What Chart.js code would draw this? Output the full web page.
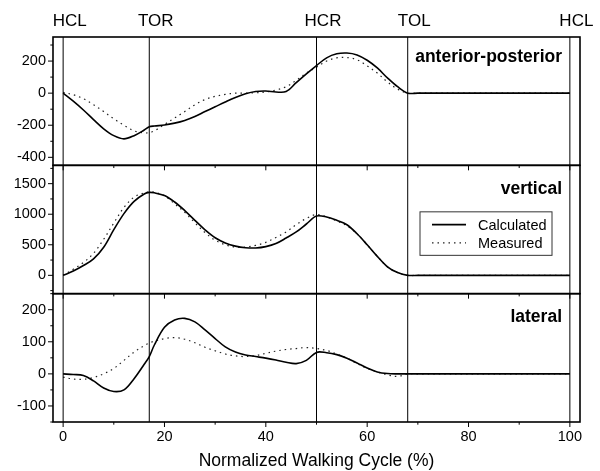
<!DOCTYPE html>
<html lang="en">
  <head>
    <meta charset="UTF-8" />
    <title>Ground reaction force over the walking cycle</title>
    <script src="https://cdn.jsdelivr.net/npm/chart.js@4/dist/chart.umd.min.js"></script>
    <style>
      html, body { margin: 0; padding: 0; background: #fff; }
      #wrap { width: 600px; height: 471px; }
    </style>
  </head>
  <body>
    <div id="wrap"><canvas id="gaitChart" width="600" height="471"></canvas></div>
    <script>
      const cycle = [0, 2, 4, 6, 8, 10, 12, 14, 16, 17, 18, 20, 22, 24, 26, 28, 30, 32, 34, 36, 38, 40, 42, 44, 46, 48, 50, 52, 54, 56, 58, 60, 62, 64, 66, 68, 70, 100];

      // anterior-posterior
      const apCalc = [0, -50, -105, -165, -222, -265, -285, -265, -230, -210, -205, -199, -187, -170, -146, -115, -85, -55, -27, -4, 10, 13, 7, 10, 65, 120, 172, 220, 245, 250, 238, 205, 157, 95, 40, 0, 0, 0];
      const apMeas = [5, -10, -35, -72, -115, -160, -200, -235, -248, -246, -235, -195, -155, -115, -72, -40, -20, -8, 0, 0, 2, 8, 20, 40, 80, 125, 162, 200, 220, 222, 208, 170, 125, 70, 25, 0, 0, 0];
      // vertical
      const vertCalc = [0, 70, 160, 270, 460, 747, 1010, 1210, 1330, 1357, 1350, 1305, 1200, 1060, 900, 745, 615, 530, 478, 452, 448, 470, 520, 610, 710, 840, 970, 955, 900, 828, 680, 500, 310, 140, 45, 0, 0, 0];
      const vertMeas = [0, 100, 210, 360, 590, 856, 1110, 1280, 1350, 1365, 1360, 1300, 1170, 1030, 860, 700, 575, 500, 462, 462, 490, 540, 620, 710, 830, 930, 995, 955, 890, 810, 680, 500, 310, 140, 45, 0, 0, 0];
      // lateral
      const latCalc = [0, -2, -5, -22, -44, -55, -50, -15, 30, 54, 90, 145, 168, 173, 162, 137, 110, 84, 68, 59, 54, 49, 43, 36, 32, 42, 67, 66, 60, 49, 34, 18, 6, 1, 0, 0, 0, 0];
      const latMeas = [-10, -16, -17, -11, 0, 17, 42, 68, 88, 96, 102, 110, 113, 108, 97, 83, 72, 62, 56, 54, 57, 64, 71, 76, 79, 82, 79, 73, 62, 49, 32, 17, 6, -3, -8, 0, 0, 0];

      const xTicks = [0, 20, 40, 60, 80, 100];
      const apTicks = [-400, -200, 0, 200];
      const vertTicks = [0, 500, 1000, 1500];
      const latTicks = [-100, 0, 100, 200];

      const eventX = [0, 17, 50, 68, 100];
      const eventLabels = ["HCL", "TOR", "HCR", "TOL", "HCL"];
      const panelNames = ["anterior-posterior", "vertical", "lateral"];
      const seriesNames = ["Calculated", "Measured"];

      const FONT = '"Liberation Sans", Arial, sans-serif';
      Chart.defaults.font.family = FONT;
      Chart.defaults.color = "#000";

      function pts(values) {
        return cycle.map(function (c, i) {
          return { x: c, y: values[i] };
        });
      }

      const solidStyle = { borderColor: "#000", borderWidth: 1.6, borderDash: [] };
      const dotStyle = { borderColor: "#222", borderWidth: 1.2, borderDash: [1.5, 4] };

      function series(label, values, axis, style) {
        return {
          label: label,
          data: pts(values),
          yAxisID: axis,
          borderColor: style.borderColor,
          borderWidth: style.borderWidth,
          borderDash: style.borderDash,
          pointRadius: 0,
          fill: false,
          tension: 0.35,
        };
      }

      function yScale(min, max, ticks, weight) {
        return {
          type: "linear",
          position: "left",
          stack: "panels",
          stackWeight: 1,
          weight: weight,
          min: min,
          max: max,
          grid: { display: false, drawTicks: false },
          border: { display: false },
          ticks: {
            padding: 7,
            font: { size: 14.5 },
            color: "#000",
            callback: function (v) { return String(v); },
          },
          afterBuildTicks: function (s) {
            s.ticks = ticks.map(function (v) { return { value: v }; });
          },
          afterFit: function (s) {
            s.width = 53;
          },
        };
      }

      // frames, tick marks, event lines, panel names, legend
      const panelPlugin = {
        id: "panelPlugin",
        afterDraw: function (chart) {
          const ctx = chart.ctx;
          const area = chart.chartArea;
          const x = chart.scales.x;
          const panels = [
            { s: chart.scales.yAP, ticks: apTicks, name: panelNames[0], base: 25 },
            { s: chart.scales.yVert, ticks: vertTicks, name: panelNames[1], base: 29 },
            { s: chart.scales.yLat, ticks: latTicks, name: panelNames[2], base: 28 },
          ];

          ctx.save();
          ctx.strokeStyle = "#000";

          // event lines
          ctx.lineWidth = 1;
          eventX.forEach(function (v) {
            const px = x.getPixelForValue(v);
            ctx.beginPath();
            ctx.moveTo(px, area.top);
            ctx.lineTo(px, area.bottom);
            ctx.stroke();
          });

          // event labels
          ctx.fillStyle = "#000";
          ctx.font = "17px " + FONT;
          ctx.textAlign = "center";
          ctx.textBaseline = "alphabetic";
          eventX.forEach(function (v, i) {
            ctx.fillText(eventLabels[i], x.getPixelForValue(v) + 6.5, area.top - 11.5);
          });

          panels.forEach(function (p) {
            const s = p.s;
            ctx.lineWidth = 1.6;
            ctx.strokeRect(area.left, s.top, area.right - area.left, s.bottom - s.top);

            // y tick marks, major + minor
            ctx.lineWidth = 1;
            const step = p.ticks[1] - p.ticks[0];
            let v = p.ticks[0];
            while (v - step / 2 >= s.min) v -= step / 2;
            for (; v <= s.max + 0.001; v += step / 2) {
              const major = Math.abs((v - p.ticks[0]) % step) < 0.001;
              const py = s.getPixelForValue(v);
              ctx.beginPath();
              ctx.moveTo(area.left, py);
              ctx.lineTo(area.left - (major ? 5 : 2.7), py);
              ctx.stroke();
            }

            // x tick marks at the bottom of each panel
            for (let t = 0; t <= 100; t += 10) {
              const major = t % 20 === 0;
              const px = x.getPixelForValue(t);
              ctx.beginPath();
              ctx.moveTo(px, s.bottom);
              ctx.lineTo(px, s.bottom + (major ? 5 : 2.7));
              ctx.stroke();
            }

            // panel name
            ctx.font = "bold 17.5px " + FONT;
            ctx.textAlign = "right";
            ctx.textBaseline = "alphabetic";
            ctx.fillText(p.name, area.right - 18, s.top + p.base);
          });

          // legend inside the vertical panel
          const vs = chart.scales.yVert;
          const box = { left: area.right - 160, top: vs.top + 46.5, w: 132, h: 43.5 };
          ctx.lineWidth = 1;
          ctx.strokeStyle = "#333";
          ctx.strokeRect(box.left, box.top, box.w, box.h);
          const rows = [
            { y: box.top + 12.8, style: solidStyle, text: seriesNames[0] },
            { y: box.top + 31, style: dotStyle, text: seriesNames[1] },
          ];
          ctx.font = "14.5px " + FONT;
          ctx.textAlign = "left";
          rows.forEach(function (r) {
            ctx.strokeStyle = r.style.borderColor;
            ctx.lineWidth = r.style.borderWidth;
            ctx.setLineDash(r.style.borderDash);
            ctx.beginPath();
            ctx.moveTo(box.left + 12, r.y);
            ctx.lineTo(box.left + 46, r.y);
            ctx.stroke();
            ctx.setLineDash([]);
            ctx.fillText(r.text, box.left + 58, r.y + 5.3);
          });

          ctx.restore();
        },
      };

      const ctx = document.querySelector("#gaitChart").getContext("2d");
      const gaitChart = new Chart(ctx, {
        type: "line",
        data: {
          datasets: [
            series(seriesNames[0], apCalc, "yAP", solidStyle),
            series(seriesNames[1], apMeas, "yAP", dotStyle),
            series(seriesNames[0], vertCalc, "yVert", solidStyle),
            series(seriesNames[1], vertMeas, "yVert", dotStyle),
            series(seriesNames[0], latCalc, "yLat", solidStyle),
            series(seriesNames[1], latMeas, "yLat", dotStyle),
          ],
        },
        options: {
          responsive: false,
          devicePixelRatio: 1,
          animation: false,
          layout: { padding: { top: 37, right: 20, left: 0, bottom: 0 } },
          plugins: { legend: { display: false }, tooltip: { enabled: false } },
          scales: {
            x: {
              type: "linear",
              min: -2,
              max: 102,
              grid: { display: false, drawTicks: false },
              border: { display: false },
              ticks: { padding: 6, font: { size: 14.5 }, color: "#000" },
              afterBuildTicks: function (s) {
                s.ticks = xTicks.map(function (v) { return { value: v }; });
              },
              afterFit: function (s) {
                s.height = 49;
              },
              title: {
                display: true,
                text: "Normalized Walking Cycle (%)",
                font: { size: 17.5 },
                color: "#000",
                padding: { top: 0, bottom: -1 },
              },
            },
            yLat: yScale(-150, 250, latTicks, 1),
            yVert: yScale(-300, 1800, vertTicks, 2),
            yAP: yScale(-450, 350, apTicks, 3),
          },
        },
        plugins: [panelPlugin],
      });
    </script>
  </body>
</html>
